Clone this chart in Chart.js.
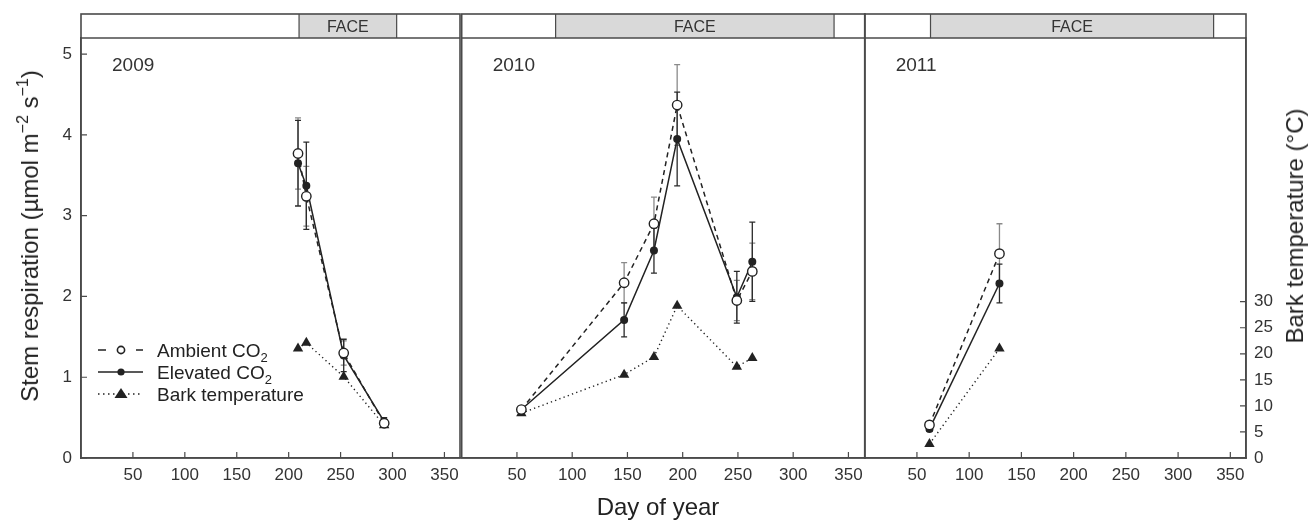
<!DOCTYPE html>
<html>
<head>
<meta charset="utf-8">
<script src="https://cdn.jsdelivr.net/npm/chart.js@4.4.1/dist/chart.umd.min.js"></script>
<style>
  html, body { margin: 0; padding: 0; background: #fff; }
  body { width: 1308px; height: 520px; position: relative; overflow: hidden;
         font-family: "Liberation Sans", Arial, sans-serif; color: #222; }
  .panel { position: absolute; top: 0; height: 520px; }
  .title { position: absolute; font-size: 24px; line-height: 1; white-space: nowrap;
           transform: translate(-50%, -50%); }
  .rot { transform: translate(-50%, -50%) rotate(-90deg); }
  sup { font-size: 16px; vertical-align: baseline; position: relative; top: -10px; }
</style>
</head>
<body>
<div class="panel" style="left:0;width:470px"><canvas id="c2009"></canvas></div>
<div class="panel" style="left:440px;width:440px"><canvas id="c2010"></canvas></div>
<div class="panel" style="left:850px;width:458px"><canvas id="c2011"></canvas></div>
<div class="title rot" style="left:30px;top:236px">Stem respiration (µmol m<sup>−2</sup> s<sup>−1</sup>)</div>
<div class="title rot" style="left:1295px;top:226px">Bark temperature (°C)</div>
<div class="title" style="left:658px;top:507px">Day of year</div>

<script>
"use strict";

// day of year of each measurement campaign
const days2009 = [209, 217, 253, 292];
const days2010 = [54, 147, 174, 195, 249, 263];
const days2011 = [62, 129];

// stem respiration (umol m-2 s-1), mean and error
const ambient2009 = [3.77, 3.24, 1.30, 0.43];
const ambientErr2009 = [0.44, 0.37, 0.15, 0.05];
const elevated2009 = [3.65, 3.37, 1.27, 0.45];
const elevatedErr2009 = [0.53, 0.54, 0.2, 0.05];

const ambient2010 = [0.60, 2.17, 2.90, 4.37, 1.95, 2.31];
const ambientErr2010 = [0.04, 0.25, 0.33, 0.50, 0.25, 0.35];
const elevated2010 = [0.60, 1.71, 2.57, 3.95, 1.99, 2.43];
const elevatedErr2010 = [0.04, 0.21, 0.28, 0.58, 0.32, 0.49];

const ambient2011 = [0.41, 2.53];
const ambientErr2011 = [0.03, 0.37];
const elevated2011 = [0.36, 2.16];
const elevatedErr2011 = [0.03, 0.24];

// bark temperature (deg C)
const bark2009 = [21.0, 22.1, 15.6, 6.3];
const bark2010 = [8.6, 16.0, 19.4, 29.2, 17.5, 19.2];
const bark2011 = [2.7, 21.0];

// FACE fumigation period (start day, end day)
const face2009 = [210, 304];
const face2010 = [85, 337];
const face2011 = [63, 334];

// tick labels
const dayTicks = [50, 100, 150, 200, 250, 300, 350];
const respTicks = [0, 1, 2, 3, 4, 5];
const tempTicks = [0, 5, 10, 15, 20, 25, 30];

const FONT = '"Liberation Sans", Arial, sans-serif';
const INK = "#222";
const AXIS = "#4a4a4a";
const STRIP_TOP = 14;
const TICK = 6;

function rich(ctx, x, y, parts) {
  // draws text pieces one after another, small ones shifted (subscripts)
  parts.forEach(p => {
    ctx.font = p[1] + "px " + FONT;
    ctx.fillText(p[0], x, y + (p[2] || 0));
    x += ctx.measureText(p[0]).width;
  });
}

function drawLegend(ctx) {
  ctx.save();
  ctx.strokeStyle = INK;
  ctx.fillStyle = INK;
  ctx.lineWidth = 1.6;
  const x1 = 98, x2 = 143, xm = 121;
  const rows = [350, 372, 394];

  // ambient
  ctx.beginPath();
  ctx.moveTo(x1, rows[0]); ctx.lineTo(x1 + 8, rows[0]);
  ctx.moveTo(x2 - 7, rows[0]); ctx.lineTo(x2, rows[0]);
  ctx.stroke();
  ctx.beginPath();
  ctx.arc(xm, rows[0], 3.6, 0, Math.PI * 2);
  ctx.fillStyle = "#fff"; ctx.fill(); ctx.stroke();
  ctx.fillStyle = INK;

  // elevated
  ctx.beginPath();
  ctx.moveTo(x1, rows[1]); ctx.lineTo(x2, rows[1]);
  ctx.stroke();
  ctx.beginPath();
  ctx.arc(xm, rows[1], 3.6, 0, Math.PI * 2);
  ctx.fill();

  // bark temperature
  ctx.setLineDash([1.5, 3.5]);
  ctx.beginPath();
  ctx.moveTo(x1, rows[2]); ctx.lineTo(x2, rows[2]);
  ctx.stroke();
  ctx.setLineDash([]);
  ctx.beginPath();
  ctx.moveTo(xm, rows[2] - 6); ctx.lineTo(xm + 6.5, rows[2] + 4); ctx.lineTo(xm - 6.5, rows[2] + 4);
  ctx.closePath(); ctx.fill();

  ctx.textAlign = "left";
  ctx.textBaseline = "alphabetic";
  rich(ctx, 157, rows[0] + 7, [["Ambient CO", 19], ["2", 13, 5]]);
  rich(ctx, 157, rows[1] + 7, [["Elevated CO", 19], ["2", 13, 5]]);
  rich(ctx, 157, rows[2] + 7, [["Bark temperature", 19]]);
  ctx.restore();
}

function decor(p) {
  return {
    id: "decor",
    beforeDatasetsDraw(chart) {
      const { ctx, scales: { x, y } } = chart;
      ctx.save();
      ctx.lineWidth = 1.3;
      [[p.amb, p.ambErr, "#8a8a8a"], [p.elev, p.elevErr, "#2a2a2a"]].forEach(([vals, errs, col]) => {
        ctx.strokeStyle = col;
        vals.forEach((v, i) => {
          const px = x.getPixelForValue(p.days[i]);
          const top = y.getPixelForValue(v + errs[i]);
          const bot = y.getPixelForValue(v - errs[i]);
          ctx.beginPath();
          ctx.moveTo(px, top); ctx.lineTo(px, bot);
          ctx.moveTo(px - 3, top); ctx.lineTo(px + 3, top);
          ctx.moveTo(px - 3, bot); ctx.lineTo(px + 3, bot);
          ctx.stroke();
        });
      });
      ctx.restore();
    },
    afterDraw(chart) {
      const { ctx, chartArea: a, scales: { x, y, y2 } } = chart;
      ctx.save();
      const f0 = x.getPixelForValue(p.face[0]);
      const f1 = x.getPixelForValue(p.face[1]);
      ctx.fillStyle = "#d9d9d9";
      ctx.fillRect(f0, STRIP_TOP, f1 - f0, a.top - STRIP_TOP);
      ctx.strokeStyle = AXIS;
      ctx.lineWidth = 1.2;
      ctx.beginPath();
      ctx.moveTo(f0, STRIP_TOP); ctx.lineTo(f0, a.top);
      ctx.moveTo(f1, STRIP_TOP); ctx.lineTo(f1, a.top);
      ctx.stroke();

      // inward tick marks
      ctx.beginPath();
      x.ticks.forEach(t => {
        const px = x.getPixelForValue(t.value);
        ctx.moveTo(px, a.bottom); ctx.lineTo(px, a.bottom - TICK);
      });
      if (p.showLeft) y.ticks.forEach(t => {
        const py = y.getPixelForValue(t.value);
        ctx.moveTo(a.left, py); ctx.lineTo(a.left + TICK, py);
      });
      if (p.showRight) y2.ticks.forEach(t => {
        const py = y2.getPixelForValue(t.value);
        ctx.moveTo(a.right, py); ctx.lineTo(a.right - TICK, py);
      });
      ctx.stroke();

      ctx.lineWidth = 1.6;
      ctx.strokeRect(a.left, STRIP_TOP, a.right - a.left, a.bottom - STRIP_TOP);
      ctx.beginPath();
      ctx.moveTo(a.left, a.top); ctx.lineTo(a.right, a.top);
      ctx.stroke();

      ctx.fillStyle = "#333";
      ctx.font = "16px " + FONT;
      ctx.textAlign = "center";
      ctx.textBaseline = "alphabetic";
      ctx.fillText("FACE", (f0 + f1) / 2, 32);

      ctx.font = "19px " + FONT;
      ctx.textAlign = "left";
      ctx.fillText(p.year, a.left + 31, 71);

      if (p.legend) drawLegend(ctx);
      ctx.restore();
    }
  };
}

function fixed(size, key) {
  return s => {
    s[key] = s.options.display ? size : 0;
    s.paddingLeft = 0; s.paddingRight = 0; s.paddingTop = 0; s.paddingBottom = 0;
  };
}

function makePanel(id, p) {
  const pts = vals => p.days.map((d, i) => ({ x: d, y: vals[i] }));
  const tickFont = { family: FONT, size: 17 };
  const grid = { display: false, drawTicks: false };
  const border = { color: AXIS, width: 1.6 };

  new Chart(document.getElementById(id), {
    type: "line",
    data: {
      datasets: [
        {
          label: "Ambient CO2",
          data: pts(p.amb),
          borderColor: INK,
          borderWidth: 1.5,
          borderDash: [5, 4],
          pointStyle: "circle",
          pointRadius: 4.7,
          pointBackgroundColor: "#fff",
          pointBorderColor: INK,
          pointBorderWidth: 1.4,
          yAxisID: "y",
        },
        {
          label: "Elevated CO2",
          data: pts(p.elev),
          borderColor: INK,
          borderWidth: 1.5,
          pointStyle: "circle",
          pointRadius: 4,
          pointBackgroundColor: INK,
          pointBorderColor: INK,
          pointBorderWidth: 0,
          yAxisID: "y",
        },
        {
          label: "Bark temperature",
          data: pts(p.bark),
          borderColor: INK,
          borderWidth: 1.4,
          borderDash: [1.3, 3.2],
          pointStyle: "triangle",
          pointRadius: 6,
          pointBackgroundColor: INK,
          pointBorderWidth: 0,
          yAxisID: "y2",
        },
      ],
    },
    options: {
      responsive: true,
      maintainAspectRatio: false,
      animation: false,
      layout: { padding: p.padding },
      plugins: { legend: { display: false }, tooltip: { enabled: false } },
      scales: {
        x: {
          type: "linear",
          min: 0,
          max: 365,
          afterBuildTicks: s => { s.ticks = dayTicks.map(v => ({ value: v })); },
          ticks: { font: tickFont, color: "#333", padding: 7, maxRotation: 0, autoSkip: false },
          grid: grid,
          border: border,
          afterFit: fixed(62, "height"),
        },
        y: {
          display: p.showLeft,
          min: 0,
          max: 5.2,
          afterBuildTicks: s => { s.ticks = respTicks.map(v => ({ value: v })); },
          ticks: { font: tickFont, color: "#333", padding: 9 },
          grid: grid,
          border: border,
          afterFit: fixed(81, "width"),
        },
        y2: {
          display: p.showRight,
          position: "right",
          min: 0,
          max: 80.6,
          afterBuildTicks: s => { s.ticks = tempTicks.map(v => ({ value: v })); },
          ticks: { font: tickFont, color: "#333", padding: 8 },
          grid: grid,
          border: border,
          afterFit: fixed(62, "width"),
        },
      },
    },
    plugins: [decor(p)],
  });
}

makePanel("c2009", {
  year: "2009", days: days2009, amb: ambient2009, ambErr: ambientErr2009,
  elev: elevated2009, elevErr: elevatedErr2009, bark: bark2009, face: face2009,
  showLeft: true, showRight: false, legend: true,
  padding: { top: 38, left: 0, right: 10, bottom: 0 },
});
makePanel("c2010", {
  year: "2010", days: days2010, amb: ambient2010, ambErr: ambientErr2010,
  elev: elevated2010, elevErr: elevatedErr2010, bark: bark2010, face: face2010,
  showLeft: false, showRight: false, legend: false,
  padding: { top: 38, left: 21.7, right: 15, bottom: 0 },
});
makePanel("c2011", {
  year: "2011", days: days2011, amb: ambient2011, ambErr: ambientErr2011,
  elev: elevated2011, elevErr: elevatedErr2011, bark: bark2011, face: face2011,
  showLeft: false, showRight: true, legend: false,
  padding: { top: 38, left: 14.7, right: 0, bottom: 0 },
});
</script>
</body>
</html>
